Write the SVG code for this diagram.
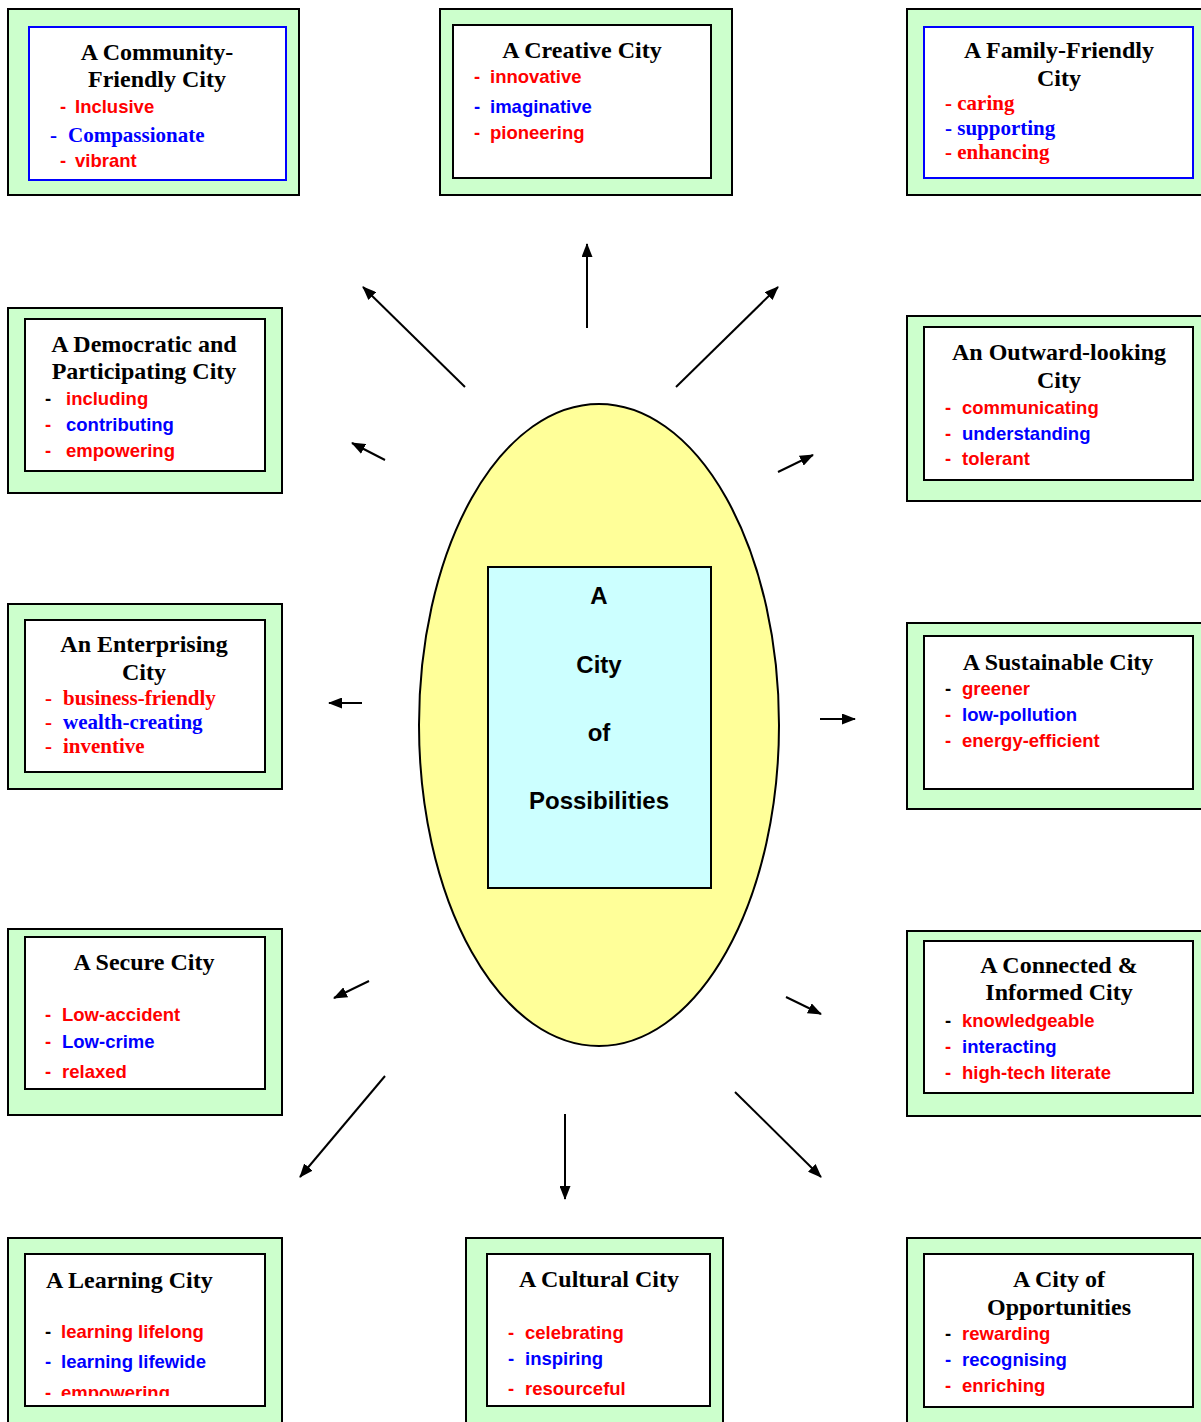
<svg xmlns="http://www.w3.org/2000/svg" width="1201" height="1422" viewBox="0 0 1201 1422">
<defs>
<style>
.outer{fill:#CCFFCC;stroke:#000;stroke-width:2}
.inner{fill:#fff;stroke:#000;stroke-width:2}
.innerb{fill:#fff;stroke:#0000FF;stroke-width:2}
.t{font-family:"Liberation Serif","Times New Roman",serif;font-weight:bold;font-size:24px;fill:#000}
.s{font-family:"Liberation Sans",Arial,sans-serif;font-weight:bold;font-size:18.5px}
.sf{font-family:"Liberation Serif","Times New Roman",serif;font-weight:bold;font-size:21px}
.r{fill:#FF0000}
.b{fill:#0000FF}
.k{fill:#000}
.c{text-anchor:middle}
.conn line{stroke:#000;stroke-width:2;marker-end:url(#ah)}
.ctr{font-family:"Liberation Sans",Arial,sans-serif;font-weight:bold;font-size:24px;fill:#000;text-anchor:middle}
</style>
<marker id="ah" viewBox="0 0 14 11" refX="13" refY="5.5" markerWidth="14" markerHeight="11" markerUnits="userSpaceOnUse" orient="auto">
<path d="M0,0 L14,5.5 L0,11 z" fill="#000"/>
</marker>
<clipPath id="clipLearn"><rect x="26" y="1255" width="238" height="141"/></clipPath>
</defs>
<rect width="1201" height="1422" fill="#fff"/>

<g id="center">
<ellipse cx="599" cy="725" rx="180" ry="321" fill="#FFFF99" stroke="#000" stroke-width="2"/>
<rect x="488" y="567" width="223" height="321" fill="#CCFFFF" stroke="#000" stroke-width="2"/>
<text class="ctr" x="599" y="604">A</text>
<text class="ctr" x="599" y="673">City</text>
<text class="ctr" x="599" y="741">of</text>
<text class="ctr" x="599" y="809">Possibilities</text>
</g>

<g id="community">
<rect class="outer" x="8" y="9" width="291" height="186"/>
<rect class="innerb" x="29" y="27" width="257" height="153"/>
<text class="t c" x="157" y="60">A Community-</text>
<text class="t c" x="157" y="87">Friendly City</text>
<text class="s r" x="60" y="113">-</text><text class="s r" x="75" y="113">Inclusive</text>
<text class="sf b" x="50" y="142">-</text><text class="sf b" x="68" y="142">Compassionate</text>
<text class="s r" x="60" y="167">-</text><text class="s r" x="75" y="167">vibrant</text>
</g>

<g id="creative">
<rect class="outer" x="440" y="9" width="292" height="186"/>
<rect class="inner" x="453" y="25" width="258" height="153"/>
<text class="t c" x="582" y="58">A Creative City</text>
<text class="s r" x="474" y="83">-</text><text class="s r" x="490" y="83">innovative</text>
<text class="s b" x="474" y="113">-</text><text class="s b" x="490" y="113">imaginative</text>
<text class="s r" x="474" y="139">-</text><text class="s r" x="490" y="139">pioneering</text>
</g>

<g id="family">
<rect class="outer" x="907" y="9" width="300" height="186"/>
<rect class="innerb" x="924" y="27" width="269" height="151"/>
<text class="t c" x="1059" y="58">A Family-Friendly</text>
<text class="t c" x="1059" y="86">City</text>
<text class="sf r" x="945" y="110">- caring</text>
<text class="sf b" x="945" y="135">- supporting</text>
<text class="sf r" x="945" y="159">- enhancing</text>
</g>

<g id="democratic">
<rect class="outer" x="8" y="308" width="274" height="185"/>
<rect class="inner" x="25" y="319" width="240" height="152"/>
<text class="t c" x="144" y="352">A Democratic and</text>
<text class="t c" x="144" y="379">Participating City</text>
<text class="s k" x="45" y="405">-</text><text class="s r" x="66" y="405">including</text>
<text class="s r" x="45" y="431">-</text><text class="s b" x="66" y="431">contributing</text>
<text class="s r" x="45" y="457">-</text><text class="s r" x="66" y="457">empowering</text>
</g>

<g id="outward">
<rect class="outer" x="907" y="316" width="300" height="185"/>
<rect class="inner" x="924" y="327" width="269" height="153"/>
<text class="t c" x="1059" y="360">An Outward-looking</text>
<text class="t c" x="1059" y="388">City</text>
<text class="s r" x="945" y="414">-</text><text class="s r" x="962" y="414">communicating</text>
<text class="s r" x="945" y="440">-</text><text class="s b" x="962" y="440">understanding</text>
<text class="s r" x="945" y="465">-</text><text class="s r" x="962" y="465">tolerant</text>
</g>

<g id="enterprising">
<rect class="outer" x="8" y="604" width="274" height="185"/>
<rect class="inner" x="25" y="620" width="240" height="152"/>
<text class="t c" x="144" y="652">An Enterprising</text>
<text class="t c" x="144" y="680">City</text>
<text class="sf r" x="45" y="705">-</text><text class="sf r" x="63" y="705">business-friendly</text>
<text class="sf r" x="45" y="729">-</text><text class="sf b" x="63" y="729">wealth-creating</text>
<text class="sf r" x="45" y="753">-</text><text class="sf r" x="63" y="753">inventive</text>
</g>

<g id="sustainable">
<rect class="outer" x="907" y="623" width="300" height="186"/>
<rect class="inner" x="924" y="636" width="269" height="153"/>
<text class="t c" x="1058" y="670">A Sustainable City</text>
<text class="s k" x="945" y="695">-</text><text class="s r" x="962" y="695">greener</text>
<text class="s r" x="945" y="721">-</text><text class="s b" x="962" y="721">low-pollution</text>
<text class="s r" x="945" y="747">-</text><text class="s r" x="962" y="747">energy-efficient</text>
</g>

<g id="secure">
<rect class="outer" x="8" y="929" width="274" height="186"/>
<rect class="inner" x="25" y="937" width="240" height="152"/>
<text class="t c" x="144" y="970">A Secure City</text>
<text class="s r" x="45" y="1021">-</text><text class="s r" x="62" y="1021">Low-accident</text>
<text class="s r" x="45" y="1048">-</text><text class="s b" x="62" y="1048">Low-crime</text>
<text class="s r" x="45" y="1078">-</text><text class="s r" x="62" y="1078">relaxed</text>
</g>

<g id="connected">
<rect class="outer" x="907" y="931" width="300" height="185"/>
<rect class="inner" x="924" y="941" width="269" height="152"/>
<text class="t c" x="1059" y="973">A Connected &amp;</text>
<text class="t c" x="1059" y="1000">Informed City</text>
<text class="s k" x="945" y="1027">-</text><text class="s r" x="962" y="1027">knowledgeable</text>
<text class="s r" x="945" y="1053">-</text><text class="s b" x="962" y="1053">interacting</text>
<text class="s r" x="945" y="1079">-</text><text class="s r" x="962" y="1079">high-tech literate</text>
</g>

<g id="learning">
<rect class="outer" x="8" y="1238" width="274" height="190"/>
<rect class="inner" x="25" y="1254" width="240" height="152"/>
<text class="t" x="46" y="1288">A Learning City</text>
<text class="s k" x="45" y="1338">-</text><text class="s r" x="61" y="1338">learning lifelong</text>
<text class="s b" x="45" y="1368">-</text><text class="s b" x="61" y="1368">learning lifewide</text>
<g clip-path="url(#clipLearn)">
<text class="s r" x="45" y="1399">-</text><text class="s r" x="61" y="1399">empowering</text>
</g>
</g>

<g id="cultural">
<rect class="outer" x="466" y="1238" width="257" height="190"/>
<rect class="inner" x="487" y="1254" width="223" height="152"/>
<text class="t c" x="599" y="1287">A Cultural City</text>
<text class="s r" x="508" y="1339">-</text><text class="s r" x="525" y="1339">celebrating</text>
<text class="s b" x="508" y="1365">-</text><text class="s b" x="525" y="1365">inspiring</text>
<text class="s r" x="508" y="1395">-</text><text class="s r" x="525" y="1395">resourceful</text>
</g>

<g id="opportunities">
<rect class="outer" x="907" y="1238" width="300" height="190"/>
<rect class="inner" x="924" y="1254" width="269" height="153"/>
<text class="t c" x="1059" y="1287">A City of</text>
<text class="t c" x="1059" y="1315">Opportunities</text>
<text class="s k" x="945" y="1340">-</text><text class="s r" x="962" y="1340">rewarding</text>
<text class="s b" x="945" y="1366">-</text><text class="s b" x="962" y="1366">recognising</text>
<text class="s r" x="945" y="1392">-</text><text class="s r" x="962" y="1392">enriching</text>
</g>

<g id="connectors" class="conn">
<line x1="465" y1="387" x2="363" y2="287"/>
<line x1="587" y1="328" x2="587" y2="244"/>
<line x1="676" y1="387" x2="778" y2="287"/>
<line x1="385" y1="460" x2="352" y2="443"/>
<line x1="778" y1="472" x2="813" y2="455"/>
<line x1="362" y1="703" x2="329" y2="703"/>
<line x1="820" y1="719" x2="855" y2="719"/>
<line x1="369" y1="981" x2="334" y2="998"/>
<line x1="786" y1="997" x2="821" y2="1014"/>
<line x1="385" y1="1076" x2="300" y2="1177"/>
<line x1="565" y1="1114" x2="565" y2="1199"/>
<line x1="735" y1="1092" x2="821" y2="1177"/>
</g>
</svg>
